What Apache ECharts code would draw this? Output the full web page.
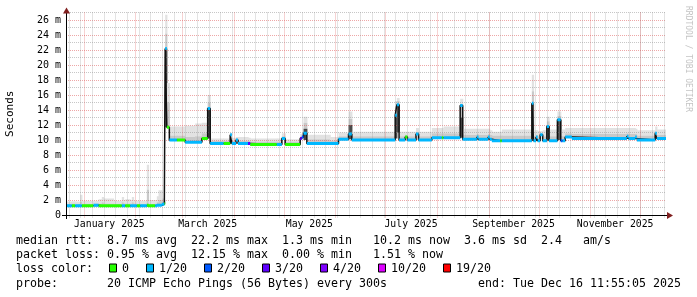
<!DOCTYPE html>
<html><head><meta charset="utf-8">
<script src="https://cdn.jsdelivr.net/npm/echarts@6/dist/echarts.min.js"></script>
<style>html,body{margin:0;padding:0;background:#fff;}#c{width:697px;height:297px;}</style>
</head><body><div id="c"></div>
<script>
// ---------- data ----------
const rangeStart = '2024-12-21T11:55:05';
const rangeEnd = '2025-12-16T11:55:05';
const monthLabels = ['2025-01', '2025-03', '2025-05', '2025-07', '2025-09', '2025-11'];
const monthNames = ['January','February','March','April','May','June','July','August','September','October','November','December'];

const segStart = [
 '2024-12-21T11:55:05','2024-12-25','2024-12-27','2024-12-30','2024-12-31','2025-01-07','2025-01-10','2025-01-12','2025-01-13','2025-01-19',
 '2025-01-24','2025-01-25','2025-01-26','2025-01-29','2025-01-30','2025-01-31','2025-02-02','2025-02-04','2025-02-08','2025-02-09',
 '2025-02-13','2025-02-14','2025-02-15','2025-02-17','2025-02-18T12','2025-02-19','2025-02-20','2025-02-21T12','2025-02-26','2025-03-03',
 '2025-03-09','2025-03-13','2025-03-16T12','2025-03-18','2025-03-26','2025-03-30','2025-03-31','2025-04-02T12','2025-04-03T17','2025-04-09T17',
 '2025-04-11','2025-04-27','2025-04-30','2025-05-02','2025-05-11','2025-05-12','2025-05-13','2025-05-15','2025-05-29','2025-06-03',
 '2025-06-09','2025-06-11','2025-07-07','2025-07-08','2025-07-09T08','2025-07-13','2025-07-14T08','2025-07-19T12','2025-07-21','2025-07-29',
 '2025-08-04','2025-08-05','2025-08-15','2025-08-16T12','2025-08-25','2025-08-26','2025-08-31T17','2025-09-01T17','2025-09-03','2025-09-08',
 '2025-09-09','2025-09-27','2025-09-28','2025-09-29T12','2025-09-30T12','2025-10-02','2025-10-03T12','2025-10-06','2025-10-07T08','2025-10-12T08',
 '2025-10-14T08','2025-10-15T08','2025-10-17','2025-10-21','2025-11-23','2025-11-24','2025-11-28','2025-11-29','2025-12-10','2025-12-11'
];
// median rtt in ms per segment
const medianMs = [
 1.25,1.25,1.25,1.25,1.25,1.3,1.25,1.25,1.25,1.25,
 1.25,1.25,1.25,1.25,1.25,1.25,1.25,1.25,1.3,1.25,
 1.25,1.3,1.3,1.45,1.5,22.2,11.7,10.0,10.0,9.7,
 9.7,10.2,14.2,9.55,9.55,10.7,9.55,10.0,9.55,9.55,
 9.4,9.4,10.2,9.4,10.2,10.4,10.9,9.55,9.55,10.1,
 10.8,10.0,13.3,14.7,10.0,10.4,10.0,10.8,10.0,10.3,
 10.3,10.3,14.6,10.1,10.4,10.1,10.4,10.1,9.9,9.9,
 9.9,14.9,9.9,10.4,9.9,10.7,9.9,11.8,9.9,12.7,
 9.9,9.9,10.4,10.2,10.5,10.2,10.4,10.0,10.9,10.2
];
// loss bucket index (0 = 0, 1 = 1/20, 2 = 2/20, 3 = 3/20 ...)
const lossIdx = [
 1,0,1,1,0,1,0,0,0,0,
 1,1,0,1,1,1,0,1,0,0,
 1,1,1,1,0,1,0,1,0,1,
 1,0,1,1,0,1,1,1,1,3,
 0,1,1,0,3,2,1,1,1,1,
 1,1,1,1,1,0,1,1,1,1,
 0,1,1,1,1,1,1,1,1,0,
 1,1,1,1,1,1,1,1,1,1,
 2,1,1,1,1,1,1,1,1,1
];
// smoke: bottom, top of dark core, top of mid band, top (max)
const smokeLow = [
 1.25,1.25,1.25,1.25,1.25,1.3,1.25,1.25,1.25,1.25,
 1.25,1.25,1.25,1.25,1.25,1.25,1.25,1.25,1.3,1.25,
 1.25,1.3,1.3,1.45,1.5,11.7,11.7,10.0,10.0,9.7,
 9.7,10.2,10.2,9.55,9.55,10.7,9.55,10.0,9.55,9.55,
 9.4,9.4,10.2,9.4,10.2,10.4,10.0,9.55,9.55,10.1,
 10.1,10.0,10.2,11.0,10.0,10.4,10.0,10.8,10.0,10.3,
 10.3,10.3,10.3,10.1,10.4,10.1,10.4,10.1,9.9,9.9,
 9.9,10.5,9.9,10.4,9.9,10.7,9.9,10.0,9.9,10.0,
 9.9,9.9,10.4,10.2,10.5,10.2,10.4,10.0,10.9,10.2
];
const smokeCore = [
 1.25,1.25,1.25,1.25,1.25,1.3,1.25,1.25,1.25,1.25,
 1.25,1.25,1.25,1.25,1.25,1.25,1.25,1.25,1.3,1.25,
 1.25,1.3,1.3,1.45,1.5,22.2,11.7,10.0,10.0,9.7,
 9.7,10.2,14.2,9.55,9.55,10.7,9.55,10.0,9.55,9.55,
 9.4,9.4,10.2,9.4,10.2,10.4,11.5,9.55,9.55,10.1,
 12.0,10.0,13.3,14.7,10.0,10.4,10.0,10.8,10.0,10.3,
 10.3,10.3,13.0,10.1,10.4,10.1,10.4,10.1,9.9,9.9,
 9.9,14.9,9.9,10.4,9.9,10.7,9.9,11.8,9.9,12.7,
 9.9,9.9,10.4,10.2,10.5,10.2,10.4,10.0,10.9,10.2
];
const smokeMid = [
 1.5,1.55,1.5,1.8,1.5,1.55,1.55,1.7,1.55,1.5,
 1.7,1.55,1.55,1.55,1.7,1.55,1.5,1.5,3.4,1.5,
 1.5,1.7,2.0,1.8,1.7,24.2,15.0,10.6,10.6,10.4,
 10.5,10.9,15.0,9.9,9.9,10.8,9.9,10.2,9.9,9.9,
 9.8,9.8,10.5,9.8,10.5,10.7,12.3,10.1,9.95,10.5,
 12.8,10.5,14.5,15.2,10.5,10.7,10.5,11.1,10.5,10.9,
 10.9,10.9,14.8,10.7,10.8,10.7,10.8,10.7,10.6,10.6,
 10.6,16.5,10.5,10.7,10.5,10.9,10.5,12.5,10.5,13.2,
 10.5,10.5,10.9,10.8,10.9,10.8,10.8,10.6,11.1,10.7
];
const smokeMax = [
 1.8,1.85,1.8,2.7,1.9,1.9,2.1,2.4,2.2,1.9,
 2.4,2.0,2.1,2.0,2.4,1.9,1.9,1.9,6.7,2.0,
 2.0,2.5,3.3,2.2,2.0,26.7,17.6,11.8,11.8,11.9,
 12.2,12.3,16.0,10.2,10.2,10.9,10.3,10.4,10.4,10.3,
 10.2,10.2,10.9,10.1,10.8,11.0,13.1,10.7,10.4,11.0,
 13.8,11.1,15.2,15.6,11.1,11.1,11.1,11.6,11.1,11.6,
 11.6,11.8,15.5,11.5,11.5,11.5,11.5,11.3,11.1,11.1,
 11.4,18.7,11.3,11.3,11.2,11.2,11.3,13.1,11.4,13.8,
 11.4,11.4,11.6,11.6,11.6,11.6,11.5,11.3,11.8,11.4
];
const lossLabels = ['0', '1/20', '2/20', '3/20', '4/20', '10/20', '19/20'];
const lossColors = ['#26ff00', '#00b8ff', '#0059ff', '#5e00ff', '#7e00ff', '#dd00ff', '#ff0000'];
const statLines = [
 'median rtt:  8.7 ms avg  22.2 ms max  1.3 ms min   10.2 ms now  3.6 ms sd  2.4   am/s',
 'packet loss: 0.95 % avg  12.15 % max  0.00 % min   1.51 % now',
 'loss color:',
 'probe:       20 ICMP Echo Pings (56 Bytes) every 300s'
];
const endText = 'end: Tue Dec 16 11:55:05 2025';
const watermark = 'RRDTOOL / TOBI OETIKER';

// ---------- helpers ----------
function T(s) {
  const [d, t = '00:00:00'] = s.split('T');
  const [Y, M, D] = d.split('-').map(Number);
  const [h = 0, m = 0, sec = 0] = t.split(':').map(Number);
  return Date.UTC(Y, M - 1, D, h, m, sec);
}
const FONT = 'DejaVu Sans Mono';
const T0 = T(rangeStart), T1 = T(rangeEnd);
const n = segStart.length;
const segT = segStart.map(T);
const segEnd = segT.map((t, i) => i + 1 < n ? segT[i + 1] : T1);
const DAY = 86400000;

const monthMids = monthLabels.map(s => {
  const [Y, M] = s.split('-').map(Number);
  return (Date.UTC(Y, M - 1, 1) + Date.UTC(Y, M, 1)) / 2;
});
const monthStarts = [];
for (let m = 0; m < 12; m++) { const t = Date.UTC(2025, m, 1); if (t > T0 && t < T1) monthStarts.push(t); }
const weekLines = [];
{ let t = Date.UTC(2024, 11, 23); while (t < T1) { if (t > T0) weekLines.push(t); t += 7 * DAY; } }

const GRID_RED = 'rgba(222,79,79,0.5)';
const GRID_GREY = 'rgba(143,143,143,0.5)';

const chart = echarts.init(document.getElementById('c'), null, { renderer: 'canvas' });

const smokeData = segT.map((t, i) => [t, segEnd[i], smokeLow[i], smokeCore[i], smokeMid[i], smokeMax[i]]);
const medianStep = segT.map((t, i) => [t, medianMs[i]]).concat([[T1, medianMs[n - 1]]]);
const lossSeries = lossLabels.map((lab, k) => {
  const d = [];
  segT.forEach((t, i) => { if (lossIdx[i] === k) d.push([t, medianMs[i]], [segEnd[i], medianMs[i]], [segEnd[i], null]); });
  return { type: 'line', name: lab, data: d, symbol: 'none', connectNulls: false, z: 4, silent: true,
    lineStyle: { color: lossColors[k], width: 3, cap: 'butt' } };
});

const option = {
  animation: false,
  backgroundColor: '#ffffff',
  grid: { left: 66, top: 12.5, width: 600, height: 202.5, containLabel: false, outerBoundsMode: 'none' },
  xAxis: [{
    type: 'value', min: T0, max: T1, z: 2,
    axisLine: { show: true, onZero: true, lineStyle: { color: '#000', width: 1 } },
    axisTick: { show: false },
    splitLine: { show: false },
    axisLabel: {
      customValues: monthMids, margin: 4, fontFamily: FONT, fontSize: 9.8, color: '#000', hideOverlap: false,
      formatter: v => { const d = new Date(v); return monthNames[d.getUTCMonth()] + ' ' + d.getUTCFullYear(); }
    }
  }],
  yAxis: [{
    type: 'value', min: 0, max: 27, interval: 1, z: 2,
    axisLine: { show: true, lineStyle: { color: '#000', width: 1 } },
    axisTick: { show: false },
    axisLabel: { margin: 5, fontFamily: FONT, fontSize: 10, color: '#000',
      formatter: v => (v % 2 !== 0 ? '' : (v === 0 ? '0' : v + ' m')) },
    splitLine: { show: true, lineStyle: { color: [GRID_RED, GRID_GREY], type: [1, 1], width: 1 } },
    name: 'Seconds', nameLocation: 'middle', nameGap: 50,
    nameTextStyle: { fontFamily: FONT, fontSize: 11, color: '#000' }
  }],
  series: [
    { type: 'custom', name: 'smoke', z: 1, silent: true, clip: true, data: smokeData,
      encode: { x: [0, 1], y: [2, 3, 4, 5] },
      renderItem(params, api) {
        const t0 = api.value(0), t1 = api.value(1);
        const lo = api.value(2), co = api.value(3), mi = api.value(4), ma = api.value(5);
        const band = (a, b, fill) => {
          if (!(b > a)) return null;
          const p = api.coord([t0, b]), q = api.coord([t1, a]);
          return { type: 'rect', shape: { x: p[0], y: p[1], width: q[0] - p[0] + 0.6, height: q[1] - p[1] }, style: { fill } };
        };
        return { type: 'group', children: [band(mi, ma, '#e2e2e2'), band(co, mi, '#c9c9c9'), band(lo, co, '#4a4a4a')].filter(Boolean) };
      }
    },
    { type: 'custom', name: 'vgrid', z: 2, silent: true, clip: false,
      data: weekLines.map(t => [t, 0]).concat(monthStarts.map(t => [t, 1])),
      encode: { x: 0 },
      renderItem(params, api) {
        const cs = params.coordSys;
        const x = Math.round(api.coord([api.value(0), 0])[0]) + 0.5;
        const major = api.value(1) === 1;
        return { type: 'line', shape: { x1: x, y1: cs.y, x2: x, y2: cs.y + cs.height + 3 },
          style: { stroke: major ? GRID_RED : GRID_GREY, lineWidth: 1, lineDash: [1, 1] } };
      }
    },
    { type: 'line', name: 'median', data: medianStep, step: 'end', symbol: 'none', z: 3, silent: true,
      lineStyle: { color: '#111', width: 1.5 } },
    ...lossSeries
  ]
};
chart.setOption(option);

// ---------- decorations & legend ----------
const o = chart.convertToPixel({ gridIndex: 0 }, [T0, 0]);
const r = chart.convertToPixel({ gridIndex: 0 }, [T1, 27]);
const g = [];
g.push({ type: 'line', shape: { x1: o[0] - 4, y1: Math.round(o[1]) + 0.5, x2: r[0] + 1, y2: Math.round(o[1]) + 0.5 }, style: { stroke: '#000', lineWidth: 1 } });
g.push({ type: 'line', shape: { x1: Math.round(o[0]) + 0.5, y1: o[1] + 4, x2: Math.round(o[0]) + 0.5, y2: r[1] }, style: { stroke: '#000', lineWidth: 1 } });
g.push({ type: 'polygon', shape: { points: [[r[0] + 1, o[1] - 3], [r[0] + 7, o[1] + 0.5], [r[0] + 1, o[1] + 4]] }, style: { fill: '#801f1f' } });
g.push({ type: 'polygon', shape: { points: [[o[0] - 3, r[1] + 1], [o[0] + 0.5, r[1] - 5], [o[0] + 4, r[1] + 1]] }, style: { fill: '#801f1f' } });
g.push({ type: 'text', x: 688, y: 59, rotation: -Math.PI / 2,
  style: { text: watermark, fontFamily: FONT, fontSize: 8, fill: '#c4c4c4', align: 'center', verticalAlign: 'middle', textAlign: 'center', textVerticalAlign: 'middle' } });
const lineY = [241.2, 255.3, 269.3, 283.5];
statLines.forEach((s, i) => {
  g.push({ type: 'text', x: 16, y: lineY[i],
    style: { text: s, fontFamily: FONT, fontSize: 11.63, fill: '#000', align: 'left', verticalAlign: 'middle', textAlign: 'left', textVerticalAlign: 'middle' } });
});
g.push({ type: 'text', x: 681, y: lineY[3],
  style: { text: endText, fontFamily: FONT, fontSize: 11.63, fill: '#000', align: 'right', verticalAlign: 'middle', textAlign: 'right', textVerticalAlign: 'middle' } });
const boxX = [109, 146, 204, 262, 320, 378, 443];
lossLabels.forEach((lab, k) => {
  g.push({ type: 'rect', shape: { x: boxX[k] + 0.5, y: 264, width: 7, height: 8 }, style: { fill: lossColors[k], stroke: '#000', lineWidth: 1 } });
  g.push({ type: 'text', x: boxX[k] + 13, y: lineY[2],
    style: { text: lab, fontFamily: FONT, fontSize: 11.63, fill: '#000', align: 'left', verticalAlign: 'middle', textAlign: 'left', textVerticalAlign: 'middle' } });
});
chart.setOption({ graphic: { elements: g.map(e => Object.assign({ silent: true, z: 10 }, e)) } });
</script>
</body></html>
